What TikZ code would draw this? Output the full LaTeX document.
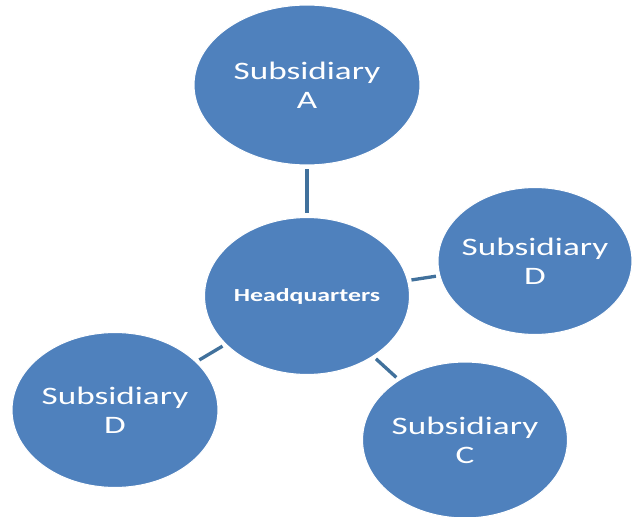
\documentclass[tikz,border=0pt]{standalone}
\usepackage{fontspec}
\usepackage{xcolor}
\setmainfont{Carlito}
\newfontfamily\widefont[FakeStretch=1.4]{Carlito}
\usetikzlibrary{shapes.geometric}
\definecolor{nodeblue}{HTML}{4F81BD}
\definecolor{linkblue}{HTML}{41719C}

\begin{document}
\begin{tikzpicture}[x=0.02cm, y=-0.02cm,
        every node/.style={text=white, align=center},
        unit/.style={ellipse, fill=nodeblue, draw=white, line width=0.6pt,
            inner ysep=0pt, inner xsep=-12pt,
            minimum width=4.1cm, minimum height=3.12cm,
            font=\widefont\fontsize{14.3}{16.5}\selectfont},
        link/.style={draw=linkblue, line width=1.9pt, shorten <=2pt, shorten >=2pt}]
        \useasboundingbox (0,0) rectangle (633,517);
        % Headquarters node
        \node (hq) [unit, minimum width=4.1cm, minimum height=3.14cm,
            font=\widefont\fontsize{10.5}{12}\selectfont\bfseries] at (307,296) {Headquarters};
        % Subsidiary nodes
        \node (subA) [unit, minimum width=4.52cm, minimum height=3.2cm] at (307,85) {Subsidiary\\A};
        \node (subDr) [unit, minimum width=3.88cm, minimum height=2.94cm] at (535,261) {Subsidiary\\D};
        \node (subDl) [unit, minimum width=4.12cm, minimum height=3.1cm] at (115,410) {Subsidiary\\D};
        \node (subC) [unit] at (465,440) {Subsidiary\\C};

        % Links to headquarters
        \path (subA) edge[link] (hq);
        \path (hq) edge[link] (subDr);
        \path (hq) edge[link] (subDl);
        \path (hq) edge[link] (subC);
    \end{tikzpicture}
\end{document}
